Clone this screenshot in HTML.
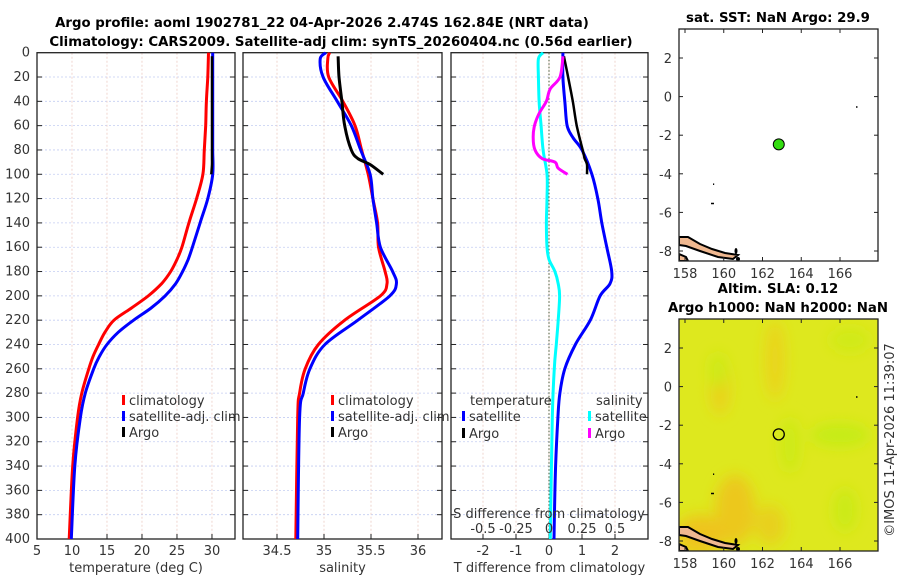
<!DOCTYPE html>
<html><head><meta charset="utf-8"><style>
body{margin:0;background:#fff;}
svg{display:block;font-family:"DejaVu Sans","Liberation Sans",sans-serif;}
.t{font-size:13px;fill:#333;}
.b{font-weight:bold;font-size:13.3px;fill:#000;}
</style></head><body>
<svg id="c" width="900" height="580" viewBox="0 0 900 580">
<text class="b" x="322" y="27" text-anchor="middle">Argo profile: aoml 1902781_22 04-Apr-2026 2.474S 162.84E (NRT data)</text>
<text class="b" x="341" y="46" text-anchor="middle">Climatology: CARS2009. Satellite-adj clim: synTS_20260404.nc (0.56d earlier)</text>
<g id="g"></g>
</svg>
<script>
// ---- data ----
const tClimDepth=[0,20,40,60,80,100,120,140,160,170,180,190,200,210,220,230,240,250,260,280,300,340,400];
const tClim=[29.5,29.4,29.2,29.1,28.9,28.7,27.8,26.7,25.7,25.0,24.1,22.8,20.9,18.5,16.0,14.7,13.8,13.0,12.4,11.4,10.8,10.1,9.6];
const tSat=[30.1,30.1,30.1,30.1,30.1,30.1,29.4,28.3,27.2,26.6,25.8,24.8,23.3,21.3,18.8,16.6,15.0,13.9,13.1,11.9,11.2,10.4,9.9];
const argoDepth=[3,20,40,60,80,87,92,100];
const argoT=[30.0,30.0,30.0,30.0,30.0,30.0,30.0,29.9];
const argoS=[35.15,35.16,35.19,35.22,35.29,35.36,35.49,35.63];
const sDepth=[0,5,20,40,60,80,100,120,140,160,180,190,200,220,240,260,280,300,400];
const sClim=[35.06,35.04,35.05,35.2,35.33,35.4,35.47,35.52,35.57,35.58,35.65,35.67,35.6,35.22,34.94,34.8,34.74,34.72,34.7];
const sSat=[35.02,34.96,34.99,35.14,35.29,35.39,35.49,35.52,35.56,35.6,35.73,35.77,35.7,35.36,35.01,34.85,34.78,34.74,34.72];
const dDepth=[0,20,40,60,70,80,100,120,140,160,180,190,200,220,240,260,280,300,340,400];
const dTsat=[0.42,0.42,0.48,0.55,0.73,1.0,1.3,1.48,1.6,1.75,1.9,1.85,1.55,1.25,0.8,0.48,0.33,0.27,0.2,0.15];
const argoDT=[0.45,0.58,0.72,0.84,1.02,1.08,1.15,1.15];
const dSDepth=[0,5,20,40,60,80,100,120,140,160,170,180,190,200,220,240,260,300,400];
const dSsat=[-0.045,-0.08,-0.08,-0.075,-0.06,-0.045,-0.015,-0.015,-0.02,-0.015,0.0,0.045,0.07,0.08,0.07,0.055,0.04,0.025,0.01];
const argoDSDepth=[3,20,30,40,50,60,70,80,87,90,95,100];
const argoDS=[0.106,0.083,0.008,-0.02,-0.075,-0.11,-0.12,-0.106,-0.053,0.045,0.07,0.14];
const depthTicks=[0,20,40,60,80,100,120,140,160,180,200,220,240,260,280,300,320,340,360,380,400];
const tTicks=[5,10,15,20,25,30];
const sTicks=[34.5,35,35.5,36];
const dTTicks=[-2,-1,0,1,2];
const dSTicks=[-0.5,-0.25,0,0.25,0.5];
const dSTickLabels=["-0.5","-0.25","0","0.25","0.5"];
const lonTicks=[158,160,162,164,166];
const latTicks=[2,0,-2,-4,-6,-8];
const floatLon=162.84, floatLat=-2.474;

const NS="http://www.w3.org/2000/svg";
const G=document.getElementById('g');
function el(tag,attrs,parent,txt){const e=document.createElementNS(NS,tag);for(const k in attrs)e.setAttribute(k,attrs[k]);if(txt!==undefined)e.textContent=txt;(parent||G).appendChild(e);return e;}
const top0=52.7,bot=539;
const Y=d=>top0+(bot-top0)*d/400;
function lin(d0,d1,p0,p1){return v=>p0+(v-d0)*(p1-p0)/(d1-d0);}
const panels=[
 {x0:37,x1:235,X:lin(5,33.29,37,235),ticks:tTicks,name:'temperature-panel',xl:'temperature (deg C)'},
 {x0:243,x1:442,X:lin(34.5,35,277,324),ticks:sTicks,name:'salinity-panel',xl:'salinity'},
 {x0:451,x1:648,X:lin(0,1,549,582),ticks:dTTicks,name:'difference-panel',xl:'T difference from climatology'}];
panels.forEach((p,i)=>{
  const g=el('g',{});
  
  
  depthTicks.forEach(d=>{if(d>0&&d<400){const l=el('line',{x1:p.x0,x2:p.x1,y1:Y(d),y2:Y(d),stroke:'#c4cdf2','stroke-dasharray':'2,2','stroke-width':0.8},g);
    el('line',{x1:p.x0,x2:p.x0+5,y1:Y(d),y2:Y(d),stroke:'#222'},g);el('line',{x1:p.x1-5,x2:p.x1,y1:Y(d),y2:Y(d),stroke:'#222'},g);}});
  p.ticks.forEach(v=>{const x=p.X(v);const l=el('line',{x1:x,x2:x,y1:top0,y2:bot,stroke:'#ecccc4','stroke-dasharray':'2,2','stroke-width':0.8},g);
    el('line',{x1:x,x2:x,y1:bot,y2:bot-5,stroke:'#222'},g);
    const t=el('text',{class:'t',x:x,y:555,'text-anchor':'middle'},g,String(v));});
  el('rect',{x:p.x0,y:top0,width:p.x1-p.x0,height:bot-top0,fill:'none',stroke:'#222','stroke-width':1.3},g);
  const xl=el('text',{class:'t',x:(p.x0+p.x1)/2,y:572,'text-anchor':'middle'},g,p.xl);
});
depthTicks.forEach(d=>{const t=el('text',{class:'t',x:30,y:Y(d)+4,'text-anchor':'end'},G,String(d));});
function line(xs,ds,X,color,name,w){
  const P=xs.map((v,i)=>[X(v),Y(ds[i])]);
  let d='M'+P[0][0].toFixed(1)+','+P[0][1].toFixed(1);
  for(let i=0;i<P.length-1;i++){const p0=P[Math.max(0,i-1)],p1=P[i],p2=P[i+1],p3=P[Math.min(P.length-1,i+2)];
    const c1=[p1[0]+(p2[0]-p0[0])/6,p1[1]+(p2[1]-p0[1])/6],c2=[p2[0]-(p3[0]-p1[0])/6,p2[1]-(p3[1]-p1[1])/6];
    d+=' C'+c1.map(v=>v.toFixed(1)).join(',')+' '+c2.map(v=>v.toFixed(1)).join(',')+' '+p2[0].toFixed(1)+','+p2[1].toFixed(1);}
  const l=el('path',{d:d,fill:'none',stroke:color,'stroke-width':w||3,'stroke-linejoin':'round'});return l;}
const P=panels;
line(tClim,tClimDepth,P[0].X,'#f00','temp-climatology-line');
line(tSat,tClimDepth,P[0].X,'#00f','temp-satellite-line');
line(argoT,argoDepth,P[0].X,'#000','temp-argo-line',2.5);
line(sClim,sDepth,P[1].X,'#f00','sal-climatology-line');
line(sSat,sDepth,P[1].X,'#00f','sal-satellite-line');
line(argoS,argoDepth,P[1].X,'#000','sal-argo-line');
const zl=el('line',{x1:549,x2:549,y1:top0,y2:bot,stroke:'#445533','stroke-dasharray':'1.5,2'});
const XS=v=>549+132*v;
line(dSsat,dSDepth,XS,'#0ff','sal-diff-satellite-line');
line(dTsat,dDepth,P[2].X,'#00f','temp-diff-satellite-line');
line(argoDT,argoDepth,P[2].X,'#000','temp-diff-argo-line',2.5);
line(argoDS,argoDSDepth,XS,'#f0f','sal-diff-argo-line');
dSTicks.forEach((v,i)=>{const t=el('text',{class:'t',x:XS(v),y:533,'text-anchor':'middle'},G,dSTickLabels[i]);});
const st=el('text',{class:'t',x:549,y:518,'text-anchor':'middle'},G,'S difference from climatology');
function legend(x,y,color,label,name){const g=el('g',{});el('rect',{x:x,y:y-10,width:3,height:10,fill:color},g);el('text',{class:'t',x:x+7,y:y},g,label);}
[[122,'#f00','climatology'],[122,'#00f','satellite-adj. clim'],[122,'#000','Argo']].forEach((a,i)=>legend(a[0],405+i*16,a[1],a[2],'legend-entry'));
[[331,'#f00','climatology'],[331,'#00f','satellite-adj. clim'],[331,'#000','Argo']].forEach((a,i)=>legend(a[0],405+i*16,a[1],a[2],'legend-entry'));
const lt=el('text',{class:'t',x:470,y:405},G,'temperature');
const ls=el('text',{class:'t',x:596,y:405},G,'salinity');
legend(462,421,'#00f','satellite','legend-entry');legend(462,438,'#000','Argo','legend-entry');
legend(588,421,'#0ff','satellite','legend-entry');legend(588,438,'#f0f','Argo','legend-entry');

// ---- maps ----
const LX=lin(158,166,685,840);
function map(top,bottom,name,bg,cid){
  const LY=lin(2,-8,top+29,top+222);
  const g=el('g',{});
  const x0=679,x1=878,y0=top,y1=bottom;
  el('defs',{},g).innerHTML='<filter id="bl'+cid+'"><feGaussianBlur stdDeviation="7"/></filter><clipPath id="cp'+cid+'"><rect x="679" y="'+y0+'" width="199" height="'+(y1-y0)+'"/></clipPath>';
  if(bg){
    el('rect',{x:x0,y:y0,width:x1-x0,height:y1-y0,fill:'#dee81e'},g);
    const bl=el('g',{filter:'url(#bl'+cid+')','clip-path':'url(#cp'+cid+')'},g);
    [[720,385,10,30,'#ead21c'],[775,360,10,40,'#ead41c'],[735,510,20,35,'#ecc81c'],[770,525,15,20,'#e8d01e'],[700,535,25,20,'#eec41c'],
     [718,370,9,18,'#cdea16'],[790,445,10,28,'#cdea16'],[840,435,30,12,'#c6ec14'],[845,510,12,22,'#cbea16'],[850,340,20,12,'#d0ea16']].forEach(b=>el('ellipse',{cx:b[0],cy:b[1],rx:b[2],ry:b[3],fill:b[4]},bl));
  }
  // coastline
  const cg=el('g',{'clip-path':'url(#cp'+cid+')'},g);
  el('polygon',{points:`679,${y1-24} 688,${y1-24} 700,${y1-17} 712,${y1-12} 725,${y1-8} 738,${y1-6} 733,${y1-2} 718,${y1-4} 700,${y1-10} 686,${y1-15} 679,${y1-16}`,fill:'#f0b890',stroke:'#000','stroke-width':2},cg);
  el('polygon',{points:`679,${y1-7} 686,${y1-4} 688,${y1} 679,${y1}`,fill:'#f0b890',stroke:'#000','stroke-width':2},cg);
  el('ellipse',{cx:736,cy:y1-10,rx:1.5,ry:3,fill:'#000'},cg);el('circle',{cx:738,cy:y1-2,r:2,fill:'#000'},cg);
  el('rect',{x:711,y:LY(-5.5),width:3,height:1.5,fill:'#000'},g);el('rect',{x:713,y:LY(-4.5),width:1.2,height:1.5,fill:'#000'},g);
  el('rect',{x:856,y:LY(-0.5),width:1.5,height:1.5,fill:'#000'},g);
  el('rect',{x:x0,y:y0,width:x1-x0,height:y1-y0,fill:'none',stroke:'#222','stroke-width':1.3},g);
  lonTicks.forEach(v=>{const x=LX(v);el('line',{x1:x,x2:x,y1:y1,y2:y1-4,stroke:'#222'},g);el('line',{x1:x,x2:x,y1:y0,y2:y0+4,stroke:'#222'},g);const t=el('text',{class:'t',x:x,y:y1+17,'text-anchor':'middle'},g,String(v));});
  latTicks.forEach(v=>{const y=LY(v);el('line',{x1:x0,x2:x0+4,y1:y,y2:y,stroke:'#222'},g);el('line',{x1:x1,x2:x1-4,y1:y,y2:y,stroke:'#222'},g);const t=el('text',{class:'t',x:672,y:y+5,'text-anchor':'end'},g,String(v));});
  return {g,LY};
}
const m1=map(29,261,'sst-map',false,1);
const d1=el('circle',{cx:LX(floatLon),cy:m1.LY(floatLat),r:5.5,fill:'#33dd11',stroke:'#000','stroke-width':1});
const m2=map(319,551,'sla-map',true,2);
const d2=el('circle',{cx:LX(floatLon),cy:m2.LY(floatLat),r:5.5,fill:'none',stroke:'#000','stroke-width':1.3});
[['sat. SST: NaN Argo: 29.9',778,22,'sst-map-title'],['Altim. SLA: 0.12',778,293,'sla-title'],['Argo h1000: NaN h2000: NaN',778,312,'height-title']].forEach(a=>{const t=el('text',{class:'b',x:a[1],y:a[2],'text-anchor':'middle'},G,a[0]);});
const cr=el('text',{class:'t',x:0,y:0,'text-anchor':'middle',transform:'translate(894,440) rotate(-90)'},G,'©IMOS 11-Apr-2026 11:39:07');
</script>
</body></html>
